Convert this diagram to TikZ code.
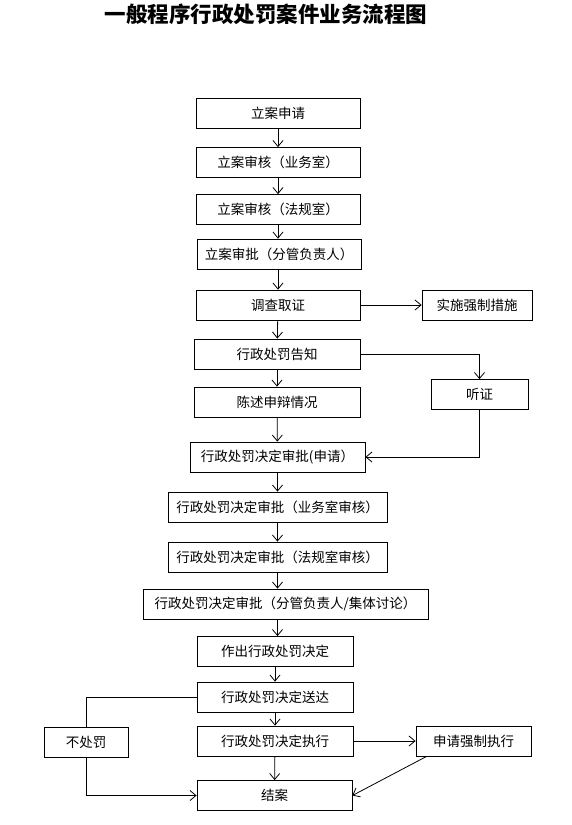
\documentclass[tikz,border=0pt]{standalone}
\usepackage{fontspec}
\setmainfont{Noto Sans CJK SC}
\newfontfamily\titlefont{Noto Sans CJK SC}
\usetikzlibrary{arrows.meta}

\begin{document}
\begin{tikzpicture}[x=1pt, y=-1pt, line width=0.8pt,
  box/.style={draw, inner sep=0pt, minimum height=30pt, font=\fontsize{13.5}{15}\selectfont},
  >={Straight Barb[length=6pt,width=10pt]}]
\useasboundingbox (0,0) rectangle (572,825);

\node[font=\titlefont\bfseries\fontsize{21.5}{24}\selectfont] (t) at (266,14) {一般程序行政处罚案件业务流程图};

\node[box, minimum width=164pt] (a) at (278,113.5) {立案申请};
\node[box, minimum width=164pt] (b) at (278,162.5) {立案审核（业务室）};
\node[box, minimum width=164pt] (c) at (278,209.5) {立案审核（法规室）};
\node[box, minimum width=164pt] (d) at (279,254) {立案审批（分管负责人）};
\node[box, minimum width=164pt] (e) at (278,305) {调查取证};
\node[box, minimum width=110pt] (f) at (477,305) {实施强制措施};
\node[box, minimum width=166pt] (g) at (277,354) {行政处罚告知};
\node[box, minimum width=97pt] (h) at (479.5,394.5) {听证};
\node[box, minimum width=166pt] (i) at (277,402) {陈述申辩情况};
\node[box, minimum width=175pt] (j) at (277.5,457) {行政处罚决定审批(申请）};
\node[box, minimum width=219pt] (k) at (277.5,507) {行政处罚决定审批（业务室审核）};
\node[box, minimum width=219pt] (l) at (277.5,557) {行政处罚决定审批（法规室审核）};
\node[box, minimum width=285pt] (m) at (285.5,604) {行政处罚决定审批（分管负责人/集体讨论）};
\node[box, minimum width=156pt] (n) at (275,651.5) {作出行政处罚决定};
\node[box, minimum width=156pt] (o) at (275,697) {行政处罚决定送达};
\node[box, minimum width=156pt] (p) at (275,741) {行政处罚决定执行};
\node[box, minimum width=155pt] (q) at (274.5,795.5) {结案};
\node[box, minimum width=84pt] (r) at (86,742) {不处罚};
\node[box, minimum width=115pt] (s) at (473.5,741) {申请强制执行};

\draw[->] (a) -- (b);
\draw[->] (b) -- (c);
\draw[->] (c.south) -- (c.south |- d.north);
\draw[->] (d.south -| e.north) -- (e.north);
\draw[->] (e) -- (f);
\draw[->] (e) -- (g);
\draw[->] (g) -- (i);
\draw[->] (g.east) -| (h.north);
\draw[->] (h.south) |- (j.east);
\draw[->] (i) -- (j);
\draw[->] (j) -- (k);
\draw[->] (k) -- (l);
\draw[->] (l.south) -- (l.south |- m.north);
\draw[->] (m.south -| l.south) -- (l.south |- n.north);
\draw[->] (n) -- (o);
\draw[->] (o) -- (p);
\draw[->] (p) -- (q);
\draw[->] (p) -- (s);
\draw (o.west) -| (r.north);
\draw[->] (r.south) |- (q.west);
\draw[->] ([xshift=11pt]s.south west) -- (q.east);
\end{tikzpicture}
\end{document}
